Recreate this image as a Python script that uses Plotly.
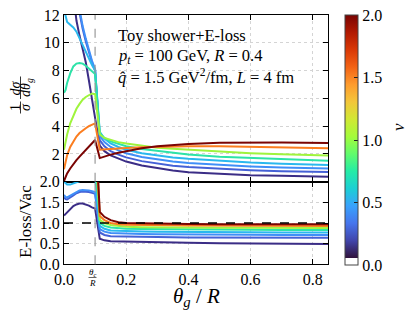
import plotly.graph_objects as go
import plotly.colors as pc

# ---------------- data ----------------
theta = [0.0, 0.005, 0.01, 0.02, 0.03, 0.04, 0.05, 0.06, 0.07, 0.08, 0.09, 0.1,
         0.115, 0.13, 0.15, 0.175, 0.2, 0.25, 0.3, 0.35, 0.4, 0.5, 0.6, 0.7, 0.85]

nu_values = [0.1, 0.25, 0.4, 0.55, 0.75, 1.05, 1.6, 2.0]

# top panel: 1/sigma dsigma/dtheta_g
top_nu0 = [40, 32, 25, 18, 13.5, 11.6, 10.5, 9.6, 8.6, 7.3, 5.8, 4.6,
           2.6, 2.2, 1.9, 1.65, 1.45, 1.17, 0.98, 0.8, 0.68, 0.55, 0.47, 0.42, 0.36]
top_nu1 = [30, 27, 24, 19, 15.5, 13.3, 12.0, 11.0, 10.1, 9.3, 8.6, 8.0,
           3.0, 2.55, 2.2, 1.95, 1.75, 1.48, 1.3, 1.15, 1.05, 0.92, 0.83, 0.76, 0.7]
top_nu2 = [28, 25, 22, 18, 15.0, 13.6, 12.3, 11.2, 10.3, 9.4, 8.7, 8.1,
           3.3, 2.85, 2.5, 2.25, 2.05, 1.78, 1.6, 1.45, 1.35, 1.2, 1.1, 1.02, 0.95]
top_nu3 = [12.4, 12.0, 11.5, 11.3, 11.1, 10.8, 10.3, 9.8, 9.4, 8.9, 8.4, 8.0,
           3.6, 3.1, 2.75, 2.5, 2.3, 2.05, 1.88, 1.75, 1.65, 1.5, 1.38, 1.3, 1.2]
top_nu4 = [6.4, 6.6, 7.1, 7.8, 8.3, 8.5, 8.55, 8.5, 8.35, 8.15, 7.95, 7.75,
           3.5, 3.15, 2.9, 2.7, 2.55, 2.35, 2.2, 2.05, 1.95, 1.8, 1.7, 1.6, 1.5]
top_nu5 = [2.3, 2.9, 3.4, 4.2, 4.8, 5.25, 5.6, 5.9, 6.1, 6.25, 6.35, 6.3,
           3.4, 3.15, 3.0, 2.85, 2.75, 2.58, 2.45, 2.37, 2.3, 2.15, 2.05, 1.97, 1.88]
top_nu6 = [0.9, 1.5, 1.9, 2.5, 2.9, 3.25, 3.5, 3.7, 3.85, 4.0, 4.1, 4.2,
           2.3, 2.33, 2.37, 2.4, 2.43, 2.48, 2.52, 2.54, 2.55, 2.55, 2.52, 2.47, 2.4]
top_nu7 = [0.05, 0.35, 0.6, 0.95, 1.27, 1.55, 1.8, 2.05, 2.3, 2.55, 2.8, 3.0,
           1.7, 1.82, 1.95, 2.08, 2.2, 2.4, 2.55, 2.65, 2.72, 2.8, 2.83, 2.82, 2.78]

# bottom panel: E-loss / Vac ratio
rat_nu0 = [1.18, 1.22, 1.27, 1.35, 1.41, 1.45, 1.47, 1.47, 1.45, 1.42, 1.38, 1.35,
           0.62, 0.58, 0.56, 0.555, 0.55, 0.54, 0.53, 0.525, 0.52, 0.51, 0.5, 0.495, 0.49]
rat_nu1 = [1.62, 1.58, 1.57, 1.61, 1.67, 1.72, 1.75, 1.76, 1.76, 1.75, 1.73, 1.71,
           0.77, 0.71, 0.68, 0.675, 0.67, 0.665, 0.66, 0.655, 0.65, 0.65, 0.645, 0.64, 0.64]
rat_nu2 = [1.68, 1.63, 1.62, 1.66, 1.72, 1.76, 1.79, 1.8, 1.8, 1.79, 1.77, 1.75,
           0.85, 0.79, 0.76, 0.75, 0.74, 0.735, 0.73, 0.725, 0.72, 0.72, 0.715, 0.71, 0.71]
rat_nu3 = [2.0, 1.96, 1.93, 1.93, 1.96, 1.99, 2.02, 2.05, 2.08, 2.1, 2.12, 2.15,
           0.93, 0.86, 0.82, 0.81, 0.8, 0.795, 0.79, 0.785, 0.78, 0.78, 0.775, 0.77, 0.77]
rat_nu4 = [2.3, 2.3, 2.32, 2.35, 2.38, 2.4, 2.42, 2.45, 2.48, 2.5, 2.52, 2.55,
           1.0, 0.93, 0.89, 0.87, 0.86, 0.855, 0.85, 0.845, 0.84, 0.84, 0.835, 0.83, 0.83]
rat_nu5 = [2.2, 2.3, 2.4, 2.5, 2.6, 2.65, 2.7, 2.75, 2.8, 2.85, 2.9, 2.95,
           1.08, 1.0, 0.95, 0.925, 0.91, 0.9, 0.895, 0.89, 0.89, 0.885, 0.885, 0.88, 0.88]
rat_nu6 = [2.5, 2.6, 2.7, 2.8, 2.9, 3.0, 3.1, 3.2, 3.3, 3.35, 3.4, 3.45,
           1.17, 1.07, 1.0, 0.97, 0.96, 0.95, 0.95, 0.945, 0.94, 0.935, 0.935, 0.93, 0.93]
rat_nu7 = [2.1, 2.3, 2.5, 2.7, 2.9, 3.0, 3.1, 3.2, 3.3, 3.35, 3.4, 3.5,
           1.27, 1.15, 1.07, 1.02, 1.0, 0.99, 0.98, 0.975, 0.975, 0.97, 0.97, 0.97, 0.97]

top_series = [top_nu0, top_nu1, top_nu2, top_nu3, top_nu4, top_nu5, top_nu6, top_nu7]
ratio_series = [rat_nu0, rat_nu1, rat_nu2, rat_nu3, rat_nu4, rat_nu5, rat_nu6, rat_nu7]
line_colors = ["#3b2d86", "#4561d6", "#3f8ff8", "#2ab8ee", "#2de3a8", "#9ff43d", "#fb7d1f", "#7a0403"]

THETA_C_OVER_R = 0.1
x_ticks = [0.0, 0.2, 0.4, 0.6, 0.8]
x_ticktext = ["0.0", "0.2", "0.4", "0.6", "0.8"]
top_yticks = [0, 2, 4, 6, 8, 10, 12]
top_yticktext = ["", "2", "4", "6", "8", "10", "12"]
bot_yticks = [0.0, 0.5, 1.0, 1.5, 2.0]
bot_yticktext = ["0.0", "0.5", "1.0", "1.5", "2.0"]
cb_ticks = [0.0, 0.5, 1.0, 1.5, 2.0]
cb_ticktext = ["0.0", "0.5", "1.0", "1.5", "2.0"]

# ---------------- layout helpers ----------------
W, H = 416, 319
FONT = "Liberation Serif"


def fx(p):
    return p / W


def fy(p):
    return 1 - p / H


fig = go.Figure()

for ys, c in zip(top_series, line_colors):
    fig.add_trace(go.Scatter(x=theta, y=ys, mode="lines", line=dict(color=c, width=2),
                             xaxis="x", yaxis="y", showlegend=False, hoverinfo="skip"))
for ys, c in zip(ratio_series, line_colors):
    fig.add_trace(go.Scatter(x=theta, y=ys, mode="lines", line=dict(color=c, width=2),
                             xaxis="x2", yaxis="y2", showlegend=False, hoverinfo="skip"))

# colorbar carrier
turbo = pc.sequential.Turbo
n = len(turbo)
w0 = 0.028
cscale = [[0.0, "#ffffff"], [w0, "#ffffff"]]
for i, col in enumerate(turbo):
    cscale.append([w0 + (1 - w0) * i / (n - 1), col])

fig.add_trace(go.Scatter(
    x=[0.5], y=[-100], mode="markers", xaxis="x", yaxis="y", showlegend=False, hoverinfo="skip",
    marker=dict(size=1, color=[1.0], cmin=0, cmax=2, colorscale=cscale, showscale=True,
                colorbar=dict(x=fx(345), xanchor="left", y=fy(140), yanchor="middle",
                              len=250 / H, lenmode="fraction", thickness=13,
                              xpad=0, ypad=0, outlinewidth=1, outlinecolor="#444",
                              tickvals=cb_ticks, ticktext=cb_ticktext, ticks="inside",
                              ticklen=4, tickcolor="#222",
                              tickfont=dict(family=FONT, size=16, color="black")))))

axis_common = dict(showline=True, linecolor="black", linewidth=1.2, mirror="ticks",
                   ticks="inside", ticklen=5, tickwidth=1, tickcolor="black",
                   showgrid=True, gridcolor="#d4d4d4", griddash="dot", gridwidth=0.8,
                   zeroline=False, automargin=False,
                   tickfont=dict(family=FONT, size=16, color="black"))

xdom = [fx(64), fx(328.3)]
fig.update_layout(
    width=W, height=H, margin=dict(l=0, r=0, t=0, b=0),
    paper_bgcolor="white", plot_bgcolor="white",
    xaxis=dict(domain=xdom, range=[0, 0.85], anchor="y", tickvals=x_ticks,
               showticklabels=False, **axis_common),
    yaxis=dict(domain=[fy(181.7), fy(15)], range=[0, 12], anchor="x",
               tickvals=top_yticks, ticktext=top_yticktext, **axis_common),
    xaxis2=dict(domain=xdom, range=[0, 0.85], anchor="y2", tickvals=x_ticks,
                ticktext=x_ticktext, **axis_common),
    yaxis2=dict(domain=[fy(264.3), fy(181.7)], range=[0, 2], anchor="x2",
                tickvals=bot_yticks, ticktext=bot_yticktext, **axis_common),
)

shapes = [
    dict(type="line", xref="x", yref="y domain", x0=THETA_C_OVER_R, x1=THETA_C_OVER_R,
         y0=0, y1=1, line=dict(color="#999999", width=1.2, dash="dash")),
    dict(type="line", xref="x2", yref="y2 domain", x0=THETA_C_OVER_R, x1=THETA_C_OVER_R,
         y0=0, y1=1, line=dict(color="#999999", width=1.2, dash="dash")),
    dict(type="line", xref="x2 domain", yref="y2", x0=0, x1=1, y0=1.0, y1=1.0,
         line=dict(color="black", width=1.3, dash="dash")),
    # fraction bars in y title (top)
    dict(type="line", xref="paper", yref="paper", x0=fx(20.5), x1=fx(20.5), y0=fy(101.5), y1=fy(113.5),
         line=dict(color="black", width=0.8)),
    dict(type="line", xref="paper", yref="paper", x0=fx(20.5), x1=fx(20.5), y0=fy(76.5), y1=fy(99),
         line=dict(color="black", width=0.8)),
    # fraction bar for theta_c / R tick
    dict(type="line", xref="paper", yref="paper", x0=fx(88.5), x1=fx(96.5), y0=fy(277.5), y1=fy(277.5),
         line=dict(color="black", width=0.6)),
]
fig.update_layout(shapes=shapes)

ann = []


def A(text, x, y, size, angle=0, xanchor="center", xref="paper", **kw):
    ann.append(dict(text=text, x=x, y=y, xref=xref, yref="paper", showarrow=False,
                    xanchor=xanchor, yanchor="middle", textangle=angle,
                    font=dict(family=FONT, size=size, color="black"), **kw))


A("Toy shower+E-loss", fx(116), fy(35), 16.5, xanchor="left")
A("<i>p<sub>t</sub></i> = 100 GeV, <i>R</i> = 0.4", fx(116), fy(56), 16.5, xanchor="left")
A("<i>q̂</i> = 1.5 GeV<sup>2</sup>/fm, <i>L</i> = 4 fm", fx(116), fy(76), 16.5, xanchor="left")

# y title top (fraction 1/sigma dsigma/dtheta_g), rotated
A("1", fx(15.5), fy(107.5), 14, angle=-90)
A("<i>σ</i>", fx(25.5), fy(107.5), 14, angle=-90)
A("<i>dσ</i>", fx(14.5), fy(88), 14, angle=-90)
A("<i>dθ<sub>g</sub></i>", fx(26), fy(88), 14, angle=-90)

# y title bottom
A("E-loss/Vac", fx(25), fy(222), 17, angle=-90)

# x title
A("<i>θ<sub>g</sub></i> / <i>R</i>", fx(196), fy(297), 21)

# theta_c / R tick label
A("<i>θ<sub>c</sub></i>", THETA_C_OVER_R, fy(272.5), 9, xref="x2", xshift=-3)
A("<i>R</i>", THETA_C_OVER_R, fy(283), 9, xref="x2", xshift=-3)

# colorbar label
A("<i>ν</i>", fx(399), fy(127), 17, angle=-90)

fig.update_layout(annotations=ann)

fig.write_html("out.html", config={"displayModeBar": False},
               post_script="document.body.style.margin='0';document.body.style.overflow='hidden';")
